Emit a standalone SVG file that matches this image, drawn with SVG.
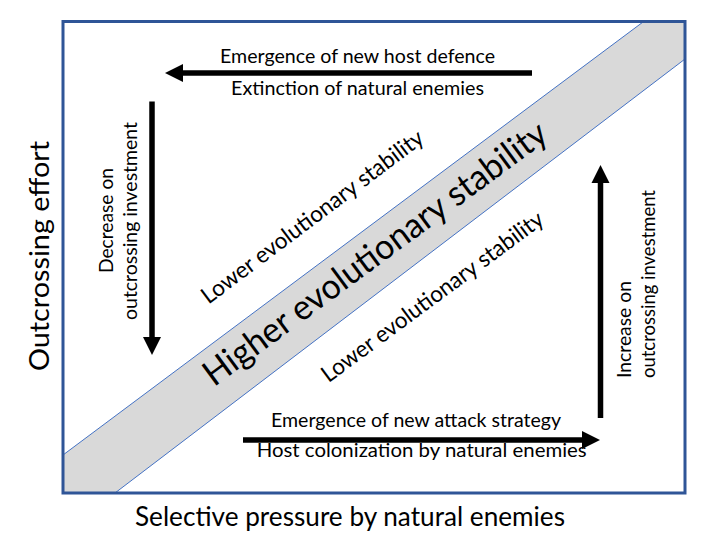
<svg xmlns="http://www.w3.org/2000/svg" width="714" height="552" viewBox="0 0 714 552">
  <style>
    text { font-family: Lato, "Open Sans", "Liberation Sans", sans-serif; fill: #000; }
    .lbl { font-size: 19.5px; text-anchor: middle; }
    .vs { font-size: 19.5px; text-anchor: start; }
    .diag { font-size: 23px; text-anchor: middle; }
    .big { font-size: 35px; text-anchor: middle; }
    .axis { font-size: 26px; text-anchor: middle; }
    .edge { stroke: #4472C4; stroke-width: 1; fill: none; }
    .arrow { stroke: #000; stroke-width: 5.5; fill: none; marker-end: url(#head); }
  </style>
  <defs>
    <marker id="head" markerUnits="userSpaceOnUse" viewBox="0 0 18 18" markerWidth="18" markerHeight="18" refX="0" refY="9" orient="auto" overflow="visible">
      <path d="M0,0 L18,9 L0,18 z" fill="#000"/>
    </marker>
  </defs>
  <rect width="714" height="552" fill="#fff"/>

  <g id="band">
    <polygon points="63,455 643,22 685,22 685,59 115,493 63,493" fill="#D9D9D9"/>
    <line class="edge" x1="63" y1="455" x2="643" y2="22"/>
    <line class="edge" x1="115" y1="493" x2="685" y2="59"/>
    <text class="big" transform="translate(382,263) rotate(-36.5)" textLength="418" lengthAdjust="spacingAndGlyphs">Higher evolutionary stability</text>
  </g>

  <g id="frame">
    <rect x="63" y="21.5" width="622" height="471.5" fill="none" stroke="#2F5597" stroke-width="3"/>
  </g>

  <g id="zone-upper">
    <text class="diag" transform="translate(317,223) rotate(-37)" textLength="272" lengthAdjust="spacingAndGlyphs">Lower evolutionary stability</text>
  </g>
  <g id="zone-lower">
    <text class="diag" transform="translate(437,303) rotate(-36.5)" textLength="270" lengthAdjust="spacingAndGlyphs">Lower evolutionary stability</text>
  </g>

  <g id="connectors">
    <line id="arrow-top" class="arrow" x1="532" y1="73" x2="183" y2="73"/>
    <line id="arrow-left" class="arrow" x1="152" y1="101.5" x2="152" y2="337"/>
    <line id="arrow-bottom" class="arrow" x1="243" y1="440" x2="582" y2="440"/>
    <line id="arrow-right" class="arrow" x1="600.5" y1="418" x2="600.5" y2="183"/>
  </g>

  <g id="label-top">
    <text class="lbl" x="357.5" y="63" textLength="275" lengthAdjust="spacingAndGlyphs">Emergence of new host defence</text>
    <text class="lbl" x="357.5" y="95" textLength="253" lengthAdjust="spacingAndGlyphs">Extinction of natural enemies</text>
  </g>
  <g id="label-bottom">
    <text class="lbl" x="416" y="427" textLength="290" lengthAdjust="spacingAndGlyphs">Emergence of new attack strategy</text>
    <text class="lbl" x="421.7" y="457" textLength="330" lengthAdjust="spacingAndGlyphs">Host colonization by natural enemies</text>
  </g>
  <g id="label-left">
    <text class="lbl" transform="translate(113,220.5) rotate(-90)" textLength="105" lengthAdjust="spacingAndGlyphs">Decrease on</text>
    <text class="lbl" transform="translate(137,221) rotate(-90)" textLength="198" lengthAdjust="spacingAndGlyphs">outcrossing investment</text>
  </g>
  <g id="label-right">
    <text class="vs" transform="translate(631,378) rotate(-90)" textLength="97" lengthAdjust="spacingAndGlyphs">Increase on</text>
    <text class="vs" transform="translate(655,378) rotate(-90)" textLength="188" lengthAdjust="spacingAndGlyphs">outcrossing investment</text>
  </g>

  <g id="axis-x">
    <text class="axis" x="350" y="526" textLength="430" lengthAdjust="spacingAndGlyphs">Selective pressure by natural enemies</text>
  </g>
  <g id="axis-y">
    <text class="axis" transform="translate(49,256) rotate(-90)" textLength="230" lengthAdjust="spacingAndGlyphs">Outcrossing effort</text>
  </g>
</svg>
